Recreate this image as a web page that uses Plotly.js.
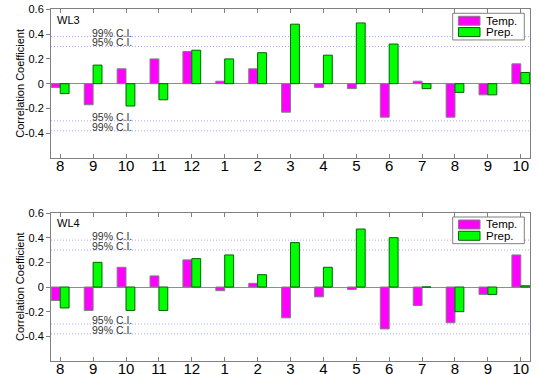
<!DOCTYPE html>
<html>
<head>
<meta charset="utf-8">
<script src="https://cdn.plot.ly/plotly-3.0.1.min.js"></script>
<style>html,body{margin:0;padding:0;background:#fff;}#chart{width:539px;height:374px;}</style>
</head>
<body>
<div id="chart"></div>
<script>
// ---- data ----
const tickLabels = ["8","9","10","11","12","1","2","3","4","5","6","7","8","9","10"];
const wl3Temp = [-0.03,-0.17,0.12,0.20,0.26,0.02,0.12,-0.23,-0.03,-0.04,-0.27,0.02,-0.27,-0.09,0.16];
const wl3Prep = [-0.08,0.15,-0.18,-0.13,0.27,0.20,0.25,0.48,0.23,0.49,0.32,-0.04,-0.07,-0.09,0.09];
const wl4Temp = [-0.11,-0.19,0.16,0.09,0.22,-0.03,0.03,-0.25,-0.08,-0.02,-0.34,-0.15,-0.29,-0.06,0.26];
const wl4Prep = [-0.17,0.20,-0.19,-0.19,0.23,0.26,0.10,0.36,0.16,0.47,0.40,0.00,-0.20,-0.06,0.01];
const seriesNames = ["Temp.","Prep."];
const panelNames = ["WL3","WL4"];
const ci95 = 0.30;
const ci99 = 0.38;
const yTicks = [-0.4,-0.2,0,0.2,0.4,0.6];
const yTickText = ["-0.4","-0.2","0","0.2","0.4","0.6"];
const yTitle = "Correlation Coefficient";

// ---- styling ----
const FONT = "Arial, 'Liberation Sans', Helvetica, sans-serif";
const MAG = "#ff00ff", GRN = "#00ff00";
const MAG_LINE = "#808080", GRN_LINE = "#006400";
const FRAME = "#808080";
const xIdx = tickLabels.map((_, i) => i);

const W = 539, H = 374;
const M = {l: 51, r: 9, t: 9, b: 12.5};
const plotH = H - M.t - M.b;
const panels = [
  {top: 9.3, bottom: 158.3},
  {top: 213.3, bottom: 361.5}
];
const plotBottom = H - M.b;
function dom(p){ return [(plotBottom - p.bottom)/plotH, (plotBottom - p.top)/plotH]; }

const traces = [];
const data = [[wl3Temp, wl3Prep],[wl4Temp, wl4Prep]];
data.forEach((pair, k) => {
  const xa = k === 0 ? "x" : "x2";
  const ya = k === 0 ? "y" : "y2";
  traces.push({type:"bar", x:xIdx, y:pair[0], name:seriesNames[0], xaxis:xa, yaxis:ya,
    marker:{color:MAG, line:{color:MAG_LINE, width:1}}, showlegend:false});
  traces.push({type:"bar", x:xIdx, y:pair[1], name:seriesNames[1], xaxis:xa, yaxis:ya,
    marker:{color:GRN, line:{color:GRN_LINE, width:1}}, showlegend:false});
});

const xRange = [-0.28, xIdx.length - 1 + 0.28];
const yRange = [-0.6, 0.6];

function xaxisDef(k){
  return {
    domain:[0,1], anchor: k===0 ? "y" : "y2",
    range:xRange, tickmode:"array", tickvals:xIdx, ticktext:tickLabels,
    ticks:"inside", ticklen:4, tickcolor:FRAME, mirror:"ticks",
    showline:true, linecolor:FRAME, linewidth:1, showgrid:false, zeroline:false,
    ticklabelstandoff:-6,
    tickfont:{family:FONT, size:15, color:"#000"}, fixedrange:true
  };
}
function yaxisDef(k){
  return {
    domain:dom(panels[k]), anchor: k===0 ? "x" : "x2",
    range:yRange, tickmode:"array", tickvals:yTicks, ticktext:yTickText,
    ticks:"outside", ticklen:4, tickcolor:FRAME, mirror:true,
    showline:true, linecolor:FRAME, linewidth:1, showgrid:false,
    zeroline:true, zerolinecolor:"#7f7fff", zerolinewidth:1,
    tickfont:{family:FONT, size:11, color:"#000"},
    fixedrange:true
  };
}
function yRightDef(k){
  return {
    domain:dom(panels[k]), anchor: k===0 ? "x" : "x2", overlaying: k===0 ? "y" : "y2",
    side:"right", range:yRange, tickmode:"array", tickvals:yTicks,
    ticks:"inside", ticklen:4, tickcolor:FRAME, showticklabels:false,
    showline:false, showgrid:false, zeroline:false, fixedrange:true
  };
}

const shapes = [];
const annotations = [];
[0,1].forEach(k => {
  const xr = k===0 ? "x" : "x2";
  const yr = k===0 ? "y" : "y2";
  [ci99, ci95, -ci95, -ci99].forEach(v => {
    shapes.push({type:"line", xref:xr+" domain", yref:yr, x0:0, x1:1, y0:v, y1:v,
      line:{color:"#a8a8ff", width:1, dash:"1px,2px"}, layer:"below"});
  });
  const ciLabels = [[ci99,"99% C.I."],[ci95,"95% C.I."],[-ci95,"95% C.I."],[-ci99,"99% C.I."]];
  ciLabels.forEach(([v, t]) => {
    annotations.push({xref:xr, yref:yr, x:0.9, y:v, text:t, showarrow:false,
      xanchor:"left", yanchor:"bottom", yshift:-4,
      font:{family:FONT, size:10.5, color:"#333"}});
  });
  const p = panels[k];
  const ph = p.bottom - p.top, pw = W - M.l - M.r;
  const fx = px => (px - M.l)/pw;
  const fy = py => 1 - (py - p.top)/ph;
  // y-axis title
  annotations.push({xref:"paper", yref:yr+" domain", x:(20 - M.l)/pw, y:0.5, text:yTitle, textangle:-90,
    showarrow:false, xanchor:"center", yanchor:"middle", font:{family:FONT, size:11, color:"#000"}});
  // panel label
  annotations.push({xref:xr+" domain", yref:yr+" domain", x:fx(55), y:fy(p.top+10.5), text:panelNames[k],
    showarrow:false, xanchor:"left", yanchor:"middle", font:{family:FONT, size:11, color:"#000"}});
  // legend box
  const bx0 = 452.7, bx1 = 524.3, by0 = p.top + 4, by1 = p.top + 30.7;
  shapes.push({type:"rect", xref:xr+" domain", yref:yr+" domain", x0:fx(bx0), x1:fx(bx1), y0:fy(by1), y1:fy(by0),
    line:{color:FRAME, width:1}, fillcolor:"#fff", layer:"above"});
  const sw = [[MAG, MAG_LINE, p.top+7, seriesNames[0]],[GRN, GRN_LINE, p.top+18.3, seriesNames[1]]];
  sw.forEach(([c, lc, yy, nm]) => {
    shapes.push({type:"rect", xref:xr+" domain", yref:yr+" domain", x0:fx(458.5), x1:fx(480), y0:fy(yy+9), y1:fy(yy),
      line:{color:lc, width:1}, fillcolor:c, layer:"above"});
    annotations.push({xref:xr+" domain", yref:yr+" domain", x:fx(484), y:fy(yy+4.5), text:nm,
      showarrow:false, xanchor:"left", yanchor:"middle", font:{family:FONT, size:11.5, color:"#000"}});
  });
});

const layout = {
  width:W, height:H, margin:M, paper_bgcolor:"#fff", plot_bgcolor:"#fff",
  barmode:"group", bargap:0.46, bargroupgap:0, showlegend:false,
  xaxis:xaxisDef(0), xaxis2:xaxisDef(1),
  yaxis:yaxisDef(0), yaxis2:yaxisDef(1),
  yaxis3:yRightDef(0), yaxis4:yRightDef(1),
  shapes:shapes, annotations:annotations, font:{family:FONT}
};

Plotly.newPlot("chart", traces, layout, {displayModeBar:false, staticPlot:true});
</script>
</body>
</html>
